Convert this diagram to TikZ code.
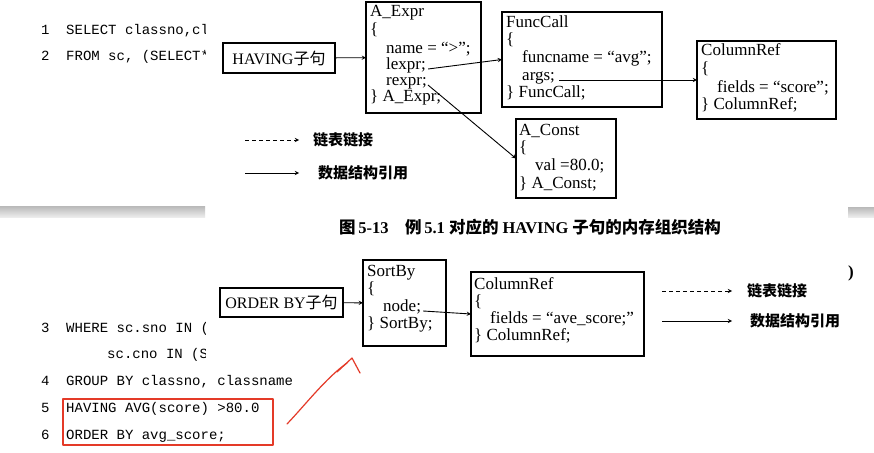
\documentclass[tikz,border=0pt]{standalone}
\usepackage{fontspec}
\setmainfont{Liberation Serif}
\setmonofont{Liberation Mono}
\newfontfamily\cjk{Noto Sans CJK SC}
\definecolor{markred}{RGB}{228,58,40}

\begin{document}
\begin{tikzpicture}[x=1pt,y=-1pt,>=stealth,
      structbox/.style={draw,line width=1.3pt,anchor=north west,inner sep=0pt,outer sep=0pt},
      clausebox/.style={draw,line width=1.3pt,inner sep=0pt,outer sep=0pt,
        font=\fontsize{16}{16}\selectfont},
      fieldtext/.style={anchor=base west,inner sep=0pt,font=\fontsize{17}{17}\selectfont},
      codetext/.style={anchor=base west,inner sep=0pt,font=\ttfamily\fontsize{14}{14}\selectfont},
      legendtext/.style={anchor=west,inner sep=0pt,font=\cjk\bfseries\fontsize{15}{15}\selectfont},
      ref/.style={->,line width=.9pt},
      link/.style={->,line width=.9pt,dash pattern=on 4pt off 3pt},
      handmark/.style={draw=markred,line width=1.2pt,line cap=round,line join=round}]
      \fill[white] (0,0) rectangle (874,452);
      \useasboundingbox (0,0) rectangle (874,452);
      % code lines, cut off by the window
      \begin{scope}
        \clip (0,0) rectangle (205,452);
        \node[codetext] (num1) at (41,35) {1};
        \node[codetext] (line1) at (66,35) {SELECT classno,cl};
        \node[codetext] (num2) at (41,60) {2};
        \node[codetext] (line2) at (66,60) {FROM sc, (SELECT*};
        \node[codetext] (num3) at (41,332) {3};
        \node[codetext] (line3) at (66,332) {WHERE sc.sno IN (};
        \node[codetext] (line3b) at (107,358) {sc.cno IN (SE};
      \end{scope}
      \node[codetext] (num4) at (41,385) {4};
      \node[codetext] (line4) at (66,385) {GROUP BY classno, classname};
      \node[codetext] (num5) at (41,412) {5};
      \node[codetext] (line5) at (66,412) {HAVING AVG(score) >80.0};
      \node[codetext] (num6) at (41,439) {6};
      \node[codetext] (line6) at (66,439) {ORDER BY avg\_score;};
      \shade[top color=gray!55,bottom color=gray!15] (0,206) rectangle (205,217);
      \shade[top color=gray!55,bottom color=gray!15] (848,207) rectangle (874,217);
      \node[anchor=west,inner sep=0pt,font=\bfseries\fontsize{17}{17}\selectfont] (cutparen) at (848,273) {)};

      % HAVING clause
      \node[clausebox,minimum width=112pt,minimum height=30pt] (having) at (279,58) {HAVING{\cjk 子句}};
      \node[structbox,minimum width=115pt,minimum height=111pt] (aexpr) at (366,2) {};
      \node[fieldtext] (aexprhead) at (370,17) {A\_Expr};
      \node[fieldtext] (aexpropen) at (370,35) {\{};
      \node[fieldtext] (aexprname) at (386,53) {name = “>”;};
      \node[fieldtext] (lexpr) at (386,69) {lexpr;};
      \node[fieldtext] (rexpr) at (386,85) {rexpr;};
      \node[fieldtext] (aexprclose) at (370,101) {\} A\_Expr;};
      \node[structbox,minimum width=160pt,minimum height=95pt] (funccall) at (502,12) {};
      \node[fieldtext] (funchead) at (506,28) {FuncCall};
      \node[fieldtext] (funcopen) at (506,45) {\{};
      \node[fieldtext] (funcname) at (522,63) {funcname = “avg”;};
      \node[fieldtext] (args) at (522,80) {args;};
      \node[fieldtext] (funcclose) at (506,97) {\} FuncCall;};
      \node[structbox,minimum width=139pt,minimum height=78pt] (colref) at (697,41) {};
      \node[fieldtext] (colrefhead) at (701,56) {ColumnRef};
      \node[fieldtext] (colrefopen) at (701,73) {\{};
      \node[fieldtext] (colreffields) at (717,92) {fields = “score”;};
      \node[fieldtext] (colrefclose) at (701,109) {\} ColumnRef;};
      \node[structbox,minimum width=100pt,minimum height=79pt] (aconst) at (516,119) {};
      \node[fieldtext] (aconsthead) at (519,135) {A\_Const};
      \node[fieldtext] (aconstopen) at (519,152) {\{};
      \node[fieldtext] (aconstval) at (535,170) {val =80.0;};
      \node[fieldtext] (aconstclose) at (519,188) {\} A\_Const;};
      \draw[ref] (having) -- (aexpr);
      \draw[ref] ([xshift=2pt]lexpr.base east) -- (funccall.west);
      \draw[ref] ([xshift=1pt]rexpr.base east) -- (aconst.west);
      \draw[ref] ([xshift=4pt]args.base east) -- (colref.west);

      % legend, upper
      \coordinate (dashfrom) at (245,140);
      \coordinate (solidfrom) at (245,173);
      \node[legendtext] (linklabel) at (313,140) {链表链接};
      \node[legendtext] (reflabel) at (318,173) {数据结构引用};
      \draw[link] (dashfrom) -- ([xshift=-14pt]linklabel.west);
      \draw[ref] (solidfrom) -- ([xshift=-19pt]reflabel.west);

      \node[font=\bfseries\fontsize{16.5}{16.5}\selectfont] (caption) at (530,227)
        {{\cjk 图}\,5-13\quad{\cjk 例}\,5.1 {\cjk 对应的} HAVING {\cjk 子句的内存组织结构}};

      % ORDER BY clause
      \node[clausebox,minimum width=123pt,minimum height=29pt] (orderby) at (281.5,302.5) {ORDER BY{\cjk 子句}};
      \node[structbox,minimum width=83pt,minimum height=86pt] (sortby) at (363,260) {};
      \node[fieldtext] (sortbyhead) at (367,276) {SortBy};
      \node[fieldtext] (sortbyopen) at (367,293) {\{};
      \node[fieldtext] (sortnode) at (383,311) {node;};
      \node[fieldtext] (sortbyclose) at (367,328) {\} SortBy;};
      \node[structbox,minimum width=173pt,minimum height=84pt] (colrefb) at (471,272) {};
      \node[fieldtext] (colrefbhead) at (474,289) {ColumnRef};
      \node[fieldtext] (colrefbopen) at (474,306) {\{};
      \node[fieldtext] (colrefbfields) at (490,323) {fields = “ave\_score;”};
      \node[fieldtext] (colrefbclose) at (474,340) {\} ColumnRef;};
      \draw[ref] (orderby) -- (sortby);
      \draw[ref] ([xshift=2pt]sortnode.base east) -- (colrefb.west);

      % legend, lower
      \coordinate (dashfromb) at (662,291);
      \coordinate (solidfromb) at (662,321);
      \node[legendtext] (linklabelb) at (747,291) {链表链接};
      \node[legendtext] (reflabelb) at (750,321) {数据结构引用};
      \draw[link] (dashfromb) -- ([xshift=-15pt]linklabelb.west);
      \draw[ref] (solidfromb) -- ([xshift=-18pt]reflabelb.west);

      % red mark
      \draw[handmark] (63,399) rectangle (273,445);
      \draw[handmark] (287,424) .. controls (306,404) and (326,378) .. (347,363);
      \draw[handmark] (337,372) -- (352,358) -- (360,373);
    \end{tikzpicture}
\end{document}
